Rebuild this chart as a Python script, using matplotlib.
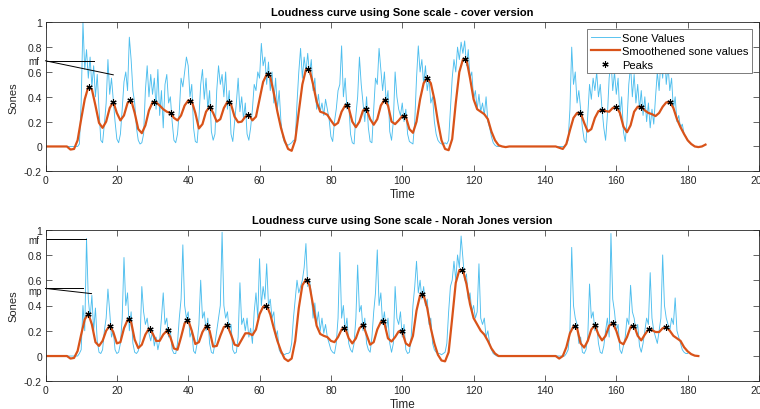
import numpy as np
import matplotlib
matplotlib.use("Agg")
import matplotlib.pyplot as plt

# sone values (sampled every 0.5 s) - cover version
sone_cover = [0, 0, 0, 0, 0, 0, 0, 0, 0, 0, 0, 0, 0, 0, 0, 0, 0, 0, 0, 0.02,
              0.35, 1.0, 0.62, 0.78, 0.55, 0.72, 0.48, 0.65, 0.4, 0.58,
              0.3, 0.05, 0.03, 0.18, 0.35, 0.7, 0.42, 0.55, 0.38, 0.2,
              0.06, 0.03, 0.1, 0.3, 0.52, 0.6, 0.45, 0.88, 0.7, 0.45,
              0.35, 0.15, 0.05, 0.02, 0.03, 0.1, 0.45, 0.65, 0.4, 0.58,
              0.42, 0.55, 0.3, 0.62, 0.25, 0.45, 0.15, 0.5, 0.58, 0.35,
              0.4, 0.2, 0.05, 0.03, 0.1, 0.28, 0.55, 0.48, 0.6, 0.72,
              0.65, 0.4, 0.5, 0.15, 0.04, 0.03, 0.22, 0.5, 0.62, 0.38,
              0.55, 0.3, 0.45, 0.12, 0.05, 0.1, 0.45, 0.65, 0.5, 0.58,
              0.4, 0.6, 0.3, 0.45, 0.1, 0.04, 0.2, 0.35, 0.55, 0.28,
              0.4, 0.22, 0.35, 0.1, 0.05, 0.15, 0.3, 0.5, 0.45, 0.6,
              0.55, 0.83, 0.65, 0.72, 0.5, 0.68, 0.45, 0.6, 0.35, 0.55,
              0.3, 0.45, 0.2, 0.08, 0.03, 0.02, 0.01, 0.02, 0.03, 0.05,
              0.05, 0.35, 0.6, 0.79, 0.55, 0.72, 0.6, 0.75, 0.58, 0.7,
              0.45, 0.55, 0.3, 0.42, 0.28, 0.35, 0.25, 0.38, 0.3, 0.22,
              0.08, 0.04, 0.2, 0.3, 0.45, 0.5, 0.81, 0.4, 0.55, 0.3,
              0.35, 0.1, 0.03, 0.02, 0.25, 0.4, 0.72, 0.5, 0.35, 0.2,
              0.4, 0.15, 0.04, 0.03, 0.3, 0.55, 0.5, 0.79, 0.62, 0.45,
              0.6, 0.35, 0.45, 0.12, 0.05, 0.2, 0.6, 0.4, 0.3, 0.25,
              0.35, 0.2, 0.3, 0.1, 0.04, 0.03, 0.02, 0.2, 0.55, 0.81,
              0.6, 0.7, 0.5, 0.65, 0.45, 0.55, 0.35, 0.4, 0.2, 0.1,
              0.05, 0.03, 0.02, 0.02, 0.03, 0.02, 0.05, 0.3, 0.55, 0.7,
              0.6, 0.8, 0.7, 0.84, 0.75, 0.85, 0.65, 0.78, 0.55, 0.6,
              0.38, 0.45, 0.3, 0.42, 0.28, 0.35, 0.25, 0.4, 0.2, 0.15,
              0.08, 0.03, 0.01, 0, 0, 0, 0, 0, 0, 0,
              0, 0, 0, 0, 0, 0, 0, 0, 0, 0,
              0, 0, 0, 0, 0, 0, 0, 0, 0, 0,
              0, 0, 0, 0, 0, 0, 0, 0, 0, 0,
              0, 0, 0.02, 0.05, 0.3, 0.8, 0.5, 0.6, 0.35, 0.45,
              0.3, 0.15, 0.05, 0.03, 0.25, 0.5, 0.38, 0.55, 0.45, 0.6,
              0.4, 0.5, 0.3, 0.15, 0.05, 0.25, 0.55, 0.7, 0.45, 0.6,
              0.42, 0.55, 0.25, 0.4, 0.12, 0.04, 0.2, 0.5, 0.65, 0.4,
              0.58, 0.35, 0.5, 0.3, 0.45, 0.25, 0.4, 0.2, 0.35, 0.15,
              0.3, 0.18, 0.4, 0.6, 0.45, 0.7, 0.55, 0.8, 0.5, 0.65,
              0.45, 0.55, 0.3, 0.4, 0.2, 0.25, 0.15, 0.18, 0.1, 0.08,
              0.05, 0.03]

# smoothened curve (one value per second) - cover version
smooth_cover = [0, 0, 0, 0, 0, 0, 0, -0.025, -0.02, 0.05,
                0.22, 0.38, 0.48, 0.46, 0.33, 0.19, 0.15, 0.2, 0.31, 0.36,
                0.27, 0.21, 0.25, 0.35, 0.375, 0.27, 0.14, 0.107, 0.17, 0.29,
                0.355, 0.355, 0.33, 0.3, 0.28, 0.27, 0.23, 0.21, 0.25, 0.33,
                0.37, 0.365, 0.27, 0.145, 0.18, 0.28, 0.32, 0.27, 0.2, 0.22,
                0.31, 0.36, 0.34, 0.24, 0.195, 0.2, 0.24, 0.255, 0.21, 0.24,
                0.38, 0.52, 0.58, 0.56, 0.43, 0.28, 0.15, 0.05, -0.02, -0.035,
                0.05, 0.28, 0.5, 0.62, 0.62, 0.5, 0.36, 0.28, 0.27, 0.255,
                0.21, 0.17, 0.19, 0.28, 0.33, 0.31, 0.2, 0.155, 0.2, 0.29,
                0.3, 0.22, 0.175, 0.22, 0.33, 0.375, 0.33, 0.2, 0.18, 0.21,
                0.245, 0.24, 0.14, 0.11, 0.2, 0.38, 0.51, 0.55, 0.51, 0.38,
                0.2, 0.05, -0.02, -0.03, 0.06, 0.35, 0.6, 0.7, 0.7, 0.55,
                0.38, 0.3, 0.28, 0.26, 0.22, 0.12, 0.05, 0.01, 0, -0.005,
                0, 0, 0, 0, 0, 0, 0, 0, 0, 0,
                0, 0, 0, 0, -0.01, -0.02, 0.02, 0.13, 0.23, 0.27,
                0.27, 0.19, 0.12, 0.14, 0.23, 0.285, 0.29, 0.285, 0.28, 0.31,
                0.32, 0.27, 0.16, 0.115, 0.17, 0.28, 0.32, 0.32, 0.29, 0.27,
                0.26, 0.245, 0.27, 0.32, 0.355, 0.36, 0.31, 0.22, 0.155, 0.1,
                0.05, 0.02, 0, -0.005, 0, 0.015]

peak_t_cover = [12.25, 19.0, 23.8, 30.4, 35.1, 40.6, 46.2, 51.4, 56.7, 62.4, 73.6,
                84.4, 89.7, 95.2, 100.5, 107.0, 117.5, 149.8, 155.9, 159.9, 166.8, 175.0]
peak_v_cover = [0.48, 0.36, 0.375, 0.355, 0.27, 0.37, 0.32, 0.36, 0.255, 0.58, 0.625,
                0.33, 0.3, 0.375, 0.245, 0.55, 0.705, 0.27, 0.29, 0.32, 0.32, 0.36]

# sone values (sampled every 0.5 s) - Norah Jones version
sone_norah = [0, 0, 0, 0, 0, 0, 0, 0, 0, 0, 0, 0, 0, 0, 0, 0, 0, 0, 0, 0.02,
              0.05, 0.4, 0.2, 0.93, 0.45, 0.3, 0.48, 0.2, 0.38, 0.12,
              0.03, 0.02, 0.05, 0.2, 0.3, 0.53, 0.35, 0.15, 0.2, 0.05,
              0.02, 0.03, 0.1, 0.3, 0.78, 0.4, 0.5, 0.2, 0.35, 0.1,
              0.03, 0.02, 0.04, 0.12, 0.55, 0.35, 0.25, 0.3, 0.18, 0.12,
              0.2, 0.08, 0.15, 0.05, 0.12, 0.3, 0.5, 0.25, 0.3, 0.15,
              0.2, 0.05, 0.02, 0.02, 0.1, 0.3, 0.45, 0.88, 0.4, 0.3,
              0.35, 0.15, 0.2, 0.04, 0.02, 0.1, 0.25, 0.6, 0.3, 0.35,
              0.2, 0.3, 0.1, 0.03, 0.02, 0.1, 0.2, 0.3, 0.4, 0.98,
              0.4, 0.3, 0.35, 0.2, 0.25, 0.05, 0.02, 0.03, 0.15, 0.58,
              0.25, 0.3, 0.2, 0.3, 0.15, 0.22, 0.1, 0.35, 0.5, 0.3,
              0.77, 0.4, 0.55, 0.45, 0.73, 0.4, 0.45, 0.3, 0.35, 0.15,
              0.2, 0.05, 0.02, 0.02, 0.01, 0.02, 0.02, 0.03, 0.1, 0.3,
              0.45, 0.6, 0.5, 0.55, 0.6, 0.7, 0.89, 0.55, 0.6, 0.5,
              0.3, 0.42, 0.25, 0.35, 0.2, 0.3, 0.18, 0.25, 0.15, 0.1,
              0.05, 0.03, 0.02, 0.1, 0.3, 0.82, 0.3, 0.4, 0.2, 0.3,
              0.1, 0.05, 0.03, 0.1, 0.3, 0.72, 0.35, 0.4, 0.2, 0.3,
              0.1, 0.05, 0.03, 0.15, 0.35, 0.5, 0.84, 0.4, 0.5, 0.25,
              0.35, 0.2, 0.3, 0.1, 0.03, 0.1, 0.55, 0.3, 0.25, 0.35,
              0.15, 0.25, 0.05, 0.02, 0.03, 0.15, 0.4, 0.55, 0.75, 0.5,
              0.6, 0.45, 0.55, 0.4, 0.45, 0.25, 0.3, 0.1, 0.05, 0.03,
              0.02, 0.02, 0.01, 0.02, 0.03, 0.1, 0.35, 0.55, 0.6, 0.75,
              0.6, 0.8, 0.7, 0.95, 0.78, 0.6, 0.65, 0.45, 0.5, 0.35,
              0.4, 0.3, 0.35, 0.73, 0.3, 0.25, 0.3, 0.15, 0.2, 0.1,
              0.05, 0.02, 0.01, 0, 0, 0, 0, 0, 0, 0,
              0, 0, 0, 0, 0, 0, 0, 0, 0, 0,
              0, 0, 0, 0, 0, 0, 0, 0, 0, 0,
              0, 0, 0, 0, 0, 0, 0, 0, 0, 0,
              0, 0, 0.02, 0.05, 0.2, 0.86, 0.4, 0.3, 0.25, 0.1,
              0.15, 0.03, 0.02, 0.05, 0.15, 0.57, 0.3, 0.35, 0.2, 0.25,
              0.1, 0.03, 0.02, 0.08, 0.2, 0.3, 0.15, 0.97, 0.45, 0.35,
              0.2, 0.25, 0.05, 0.02, 0.08, 0.15, 0.3, 0.25, 0.56, 0.35,
              0.3, 0.2, 0.25, 0.08, 0.03, 0.1, 0.2, 0.3, 0.25, 0.66,
              0.3, 0.2, 0.15, 0.1, 0.2, 0.3, 0.8, 0.4, 0.3, 0.25,
              0.2, 0.3, 0.25, 0.46, 0.2, 0.15, 0.1, 0.05, 0.03, 0.02,
              0.02]

# smoothened curve (one value per second) - Norah Jones version
smooth_norah = [0, 0, 0, 0, 0, 0, 0, -0.02, -0.015, 0.04,
                0.17, 0.29, 0.335, 0.25, 0.11, 0.08, 0.12, 0.2, 0.24, 0.19,
                0.1, 0.11, 0.22, 0.285, 0.27, 0.13, 0.063, 0.09, 0.17, 0.217,
                0.18, 0.12, 0.12, 0.17, 0.2, 0.15, 0.06, 0.05, 0.15, 0.26,
                0.285, 0.2, 0.095, 0.11, 0.19, 0.237, 0.2, 0.075, 0.08, 0.16,
                0.23, 0.24, 0.17, 0.09, 0.08, 0.13, 0.18, 0.18, 0.165, 0.21,
                0.33, 0.39, 0.4, 0.33, 0.22, 0.12, 0.04, -0.02, -0.04, -0.02,
                0.12, 0.38, 0.56, 0.605, 0.56, 0.4, 0.24, 0.175, 0.16, 0.15,
                0.12, 0.11, 0.15, 0.21, 0.22, 0.14, 0.1, 0.14, 0.22, 0.248,
                0.17, 0.09, 0.11, 0.21, 0.27, 0.26, 0.14, 0.115, 0.15, 0.195,
                0.19, 0.1, 0.08, 0.16, 0.36, 0.48, 0.48, 0.38, 0.22, 0.1,
                0.01, -0.035, -0.042, 0.03, 0.3, 0.58, 0.68, 0.68, 0.57, 0.41,
                0.3, 0.25, 0.2, 0.17, 0.12, 0.06, 0.02, 0, 0, 0,
                0, 0, 0, 0, 0, 0, 0, 0, 0, 0,
                0, 0, 0, 0, -0.02, 0, 0.07, 0.18, 0.235, 0.22,
                0.1, 0.067, 0.12, 0.21, 0.243, 0.17, 0.124, 0.16, 0.24, 0.259,
                0.2, 0.11, 0.093, 0.15, 0.23, 0.24, 0.16, 0.124, 0.17, 0.21,
                0.205, 0.19, 0.19, 0.22, 0.227, 0.2, 0.16, 0.14, 0.12, 0.07,
                0.037, 0.015, 0.003, 0]

peak_t_norah = [12.0, 18.0, 23.4, 29.2, 34.3, 39.8, 45.3, 50.8, 61.8, 73.2, 83.7,
                89.0, 94.5, 99.8, 105.6, 116.7, 148.4, 154.1, 159.1, 164.8, 169.2, 174.0]
peak_v_norah = [0.335, 0.24, 0.29, 0.217, 0.203, 0.285, 0.238, 0.243, 0.4, 0.605, 0.222,
                0.248, 0.275, 0.198, 0.49, 0.684, 0.235, 0.243, 0.259, 0.24, 0.211, 0.227]

# dynamics markings at the left edge: (label, text level, line level, [line end points])
marks_cover = [("mf", 0.69, 0.69, [(13.7, 0.69), (19.0, 0.577)])]
marks_norah = [("mf", 0.92, 0.925, [(11.3, 0.925)]),
               ("mp", 0.515, 0.535, [(10.4, 0.535), (12.9, 0.494)])]

BLUE = "#4DBEEE"
ORANGE = "#D95319"
DARK = "#262626"
ASTERISK = (6, 2, 0)

plt.rcParams['font.family'] = ['Liberation Sans', 'DejaVu Sans']


def draw_panel(ax, sone, smooth, pk_t, pk_v, marks, title):
    t_sone = np.arange(len(sone)) * 0.5
    t_smooth = np.arange(len(smooth)) * 1.0
    ax.plot(t_sone, sone, color=BLUE, lw=0.65, label="Sone Values")
    ax.plot(t_smooth, smooth, color=ORANGE, lw=1.6, label="Smoothened sone values")
    ax.plot(pk_t, pk_v, ls="none", marker=ASTERISK, color="black", mew=0.8, ms=4.5,
            label="Peaks")

    # lines/labels for the dynamics (mf, mp) sit on the y axis edge
    for lab, ty, ly, ends in marks:
        for x2, y2 in ends:
            ax.plot([0, x2], [ly, y2], color="black", lw=0.7, clip_on=False)
        ax.text(-4.7, ty, lab, fontsize=7, color=DARK, va="center", ha="left")

    ax.set_xlim(0, 200)
    ax.set_ylim(-0.2, 1)
    ax.set_xticks(np.arange(0, 201, 20))
    ax.set_yticks([-0.2, 0, 0.2, 0.4, 0.6, 0.8, 1])
    ax.set_yticklabels(["-0.2", "0", "0.2", "0.4", "0.6", "0.8", "1"])
    ax.tick_params(direction="in", top=True, right=True, length=4.5, width=0.5,
                   labelsize=7.5, colors=DARK, pad=2.5)
    for s in ax.spines.values():
        s.set_color(DARK)
        s.set_linewidth(0.6)
    ax.set_title(title, fontsize=8, fontweight="bold", color="black", pad=5)
    ax.set_xlabel("Time", fontsize=8.5, color=DARK, labelpad=2)
    ax.set_ylabel("Sones", fontsize=8, color=DARK, labelpad=4)


fig = plt.figure(figsize=(7.6, 4.1), dpi=100)
ax1 = fig.add_axes([45.5 / 760, 237.7 / 410, 713.5 / 760, 149 / 410])
ax2 = fig.add_axes([45.5 / 760, 27.7 / 410, 713.5 / 760, 151.6 / 410])

draw_panel(ax1, sone_cover, smooth_cover, peak_t_cover, peak_v_cover, marks_cover,
           "Loudness curve using Sone scale - cover version")
draw_panel(ax2, sone_norah, smooth_norah, peak_t_norah, peak_v_norah, marks_norah,
           "Loudness curve using Sone scale - Norah Jones version")

leg = ax1.legend(loc="upper right", bbox_to_anchor=(752 / 760, 1 - 30 / 410),
                 bbox_transform=fig.transFigure, borderaxespad=0, fontsize=8,
                 fancybox=False, framealpha=1, edgecolor="#666666",
                 handlelength=2.6, handletextpad=0.2, borderpad=0.35, labelspacing=0.3)
leg.get_frame().set_linewidth(0.6)

fig.savefig("out.png", dpi=100)
